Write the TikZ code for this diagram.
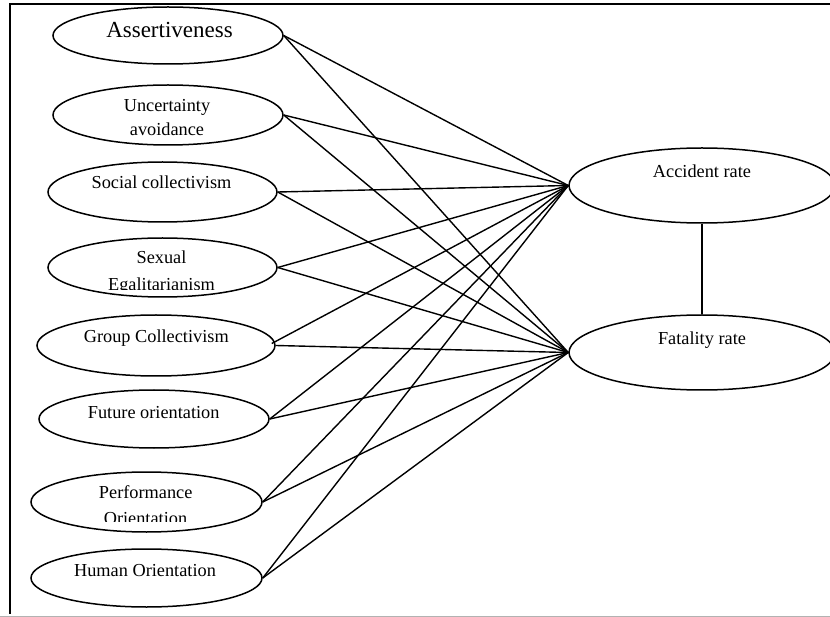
\documentclass[tikz,border=0pt]{standalone}
\usepackage{fontspec}
\setmainfont{Liberation Serif}
\usetikzlibrary{shapes.geometric}
\tikzset{
  oval/.style={draw=black, line width=1.5pt, ellipse, inner sep=0pt, minimum width=#1},
  lbl/.style={anchor=base, inner sep=0pt, font=\fontsize{18.3}{22}\selectfont},
  biglbl/.style={anchor=base, inner sep=0pt, font=\fontsize{23}{27}\selectfont},
  link/.style={draw=black, line width=1.4pt},
}
\begin{document}
\begin{tikzpicture}[x=1pt,y=-1pt]
\useasboundingbox (0,0) rectangle (830,617);
% frame
\draw[black, line width=1.6pt] (830,4) -- (10,4) -- (10,614);
\draw[gray!60, line width=1pt] (0,616) -- (830,616);
% left ellipses
\node[oval=230pt, minimum height=57pt] (e1) at (168,35.5) {};
\node[oval=230pt, minimum height=60pt] (e2) at (168,115) {};
\node[oval=229pt, minimum height=60pt] (e3) at (162.5,192) {};
\node[oval=229pt, minimum height=59pt] (e4) at (162.5,267.5) {};
\node[oval=238pt, minimum height=61pt] (e5) at (156,345.5) {};
\node[oval=230pt, minimum height=58pt] (e6) at (154,419) {};
\node[oval=231pt, minimum height=60pt] (e7) at (146.5,502) {};
\node[oval=231pt, minimum height=58pt] (e8) at (146.5,578) {};
% right ellipses
\node[oval=266pt, minimum height=75pt] (acc) at (702,185.5) {};
\node[oval=266pt, minimum height=75pt] (fat) at (702,352.5) {};
% labels
\node[biglbl] (t1) at (169.5,37.3) {Assertiveness};
\node[lbl] (t2a) at (167,112) {Uncertainty};
\node[lbl] (t2b) at (167,135.5) {avoidance};
\node[lbl] (t3) at (161.5,188.3) {Social collectivism};
\node[lbl] (t4a) at (161.5,264) {Sexual};
\begin{scope}
\clip (40,270) rectangle (290,289.5);
\node[lbl] (t4b) at (161.5,291) {Egalitarianism};
\end{scope}
\node[lbl] (t5) at (156.3,342.7) {Group Collectivism};
\node[lbl] (t6) at (153.7,418.3) {Future orientation};
\node[lbl] (t7a) at (145.7,498.3) {Performance};
\begin{scope}
\clip (30,505) rectangle (270,521.7);
\node[lbl] (t7b) at (145.5,524) {Orientation};
\end{scope}
\node[lbl] (t8) at (145,576.7) {Human Orientation};
\node[lbl] (ta) at (702,177.7) {Accident rate};
\node[lbl] (tf) at (702,345) {Fatality rate};
% connectors
\foreach \s in {e1,e2,e3,e4,e6,e7,e8}{
  \draw[link] (\s.east) -- (acc.west);
  \draw[link] (\s.east) -- (fat.west);
}
\draw[link] ([xshift=-4pt,yshift=2pt]e5.east) -- (acc.west);
\draw[link] (e5.east) -- (fat.west);
\draw[link] (acc.south) -- (fat.north);
\end{tikzpicture}
\end{document}
